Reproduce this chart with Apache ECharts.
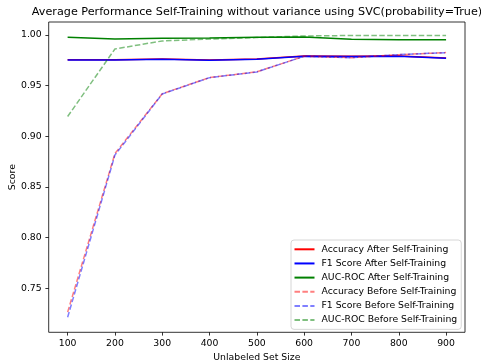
<!DOCTYPE html>
<html><head><meta charset="utf-8">
<script src="https://cdn.jsdelivr.net/npm/echarts@6/dist/echarts.min.js"></script>
<style>html,body{margin:0;padding:0;background:#fff}#c{width:481px;height:362px}</style>
</head><body><div id="c"></div>
<script>
const sizes = [100, 200, 300, 400, 500, 600, 700, 800, 900];
const accAfter  = [0.9755, 0.9755, 0.9762, 0.9752, 0.9762, 0.9792, 0.9790, 0.9792, 0.9772];
const f1After   = [0.9753, 0.9753, 0.9760, 0.9750, 0.9760, 0.9790, 0.9788, 0.9790, 0.9770];
const aucAfter  = [0.9977, 0.9960, 0.9967, 0.9970, 0.9977, 0.9980, 0.9958, 0.9954, 0.9954];
const accBefore = [0.7265, 0.8830, 0.9420, 0.9580, 0.9636, 0.9790, 0.9776, 0.9806, 0.9826];
const f1Before  = [0.7214, 0.8815, 0.9418, 0.9579, 0.9635, 0.9790, 0.9776, 0.9806, 0.9826];
const aucBefore = [0.9195, 0.9862, 0.9941, 0.9960, 0.9975, 0.9990, 0.9995, 0.9995, 0.9995];
const xTicks = [100, 200, 300, 400, 500, 600, 700, 800, 900];
const yTicks = [0.75, 0.80, 0.85, 0.90, 0.95, 1.00];

const names = ['Accuracy After Self-Training','F1 Score After Self-Training','AUC-ROC After Self-Training',
  'Accuracy Before Self-Training','F1 Score Before Self-Training','AUC-ROC Before Self-Training'];
const datas = [accAfter, f1After, aucAfter, accBefore, f1Before, aucBefore];
const colors = ['#ff0000','#0000ff','#008000','rgba(255,0,0,0.5)','rgba(0,0,255,0.5)','rgba(0,128,0,0.5)'];
const font = 'DejaVu Sans';
const fs = 9.3;
const series = names.map((n, i) => ({
  name: n, type: 'line', symbol: 'none', animation: false,
  data: sizes.map((s, j) => [s, datas[i][j]]),
  color: colors[i],
  lineStyle: { color: colors[i], width: 1.5, type: i >= 3 ? [5.5, 2.4] : 'solid' },
  z: 2 + i
}));
const chart = echarts.init(document.getElementById('c'), null, {renderer: 'canvas'});
chart.setOption({
  animation: false,
  backgroundColor: '#fff',
  graphic: [{
    type: 'text', x: 257, y: 12, z: 10,
    style: {
      text: 'Average Performance Self-Training without variance using SVC(probability=True)',
      fontFamily: font, fontSize: 11.2, fill: '#000', align: 'center', verticalAlign: 'middle'
    }
  }],
  grid: { left: 48.7, right: 16, top: 22, bottom: 29.7, outerBoundsMode: 'none', containLabel: false,
    show: true, borderColor: '#000', borderWidth: 0.8, backgroundColor: 'transparent' },
  legend: {
    orient: 'vertical', left: 291, top: 240,
    padding: [4.3, 4, 4.3, 2.5],
    itemWidth: 20, itemHeight: 10, itemGap: 4.15,
    itemStyle: { opacity: 0 },
    backgroundColor: 'rgba(255,255,255,0.8)', borderColor: '#cccccc', borderWidth: 0.8, borderRadius: 3,
    textStyle: { fontFamily: font, fontSize: fs, color: '#000', padding: [0, 0, 0, 2], height: 10, lineHeight: 10 },
    data: names
  },
  xAxis: {
    type: 'value', min: 60, max: 940,
    name: 'Unlabeled Set Size', nameLocation: 'middle', nameGap: 20.5, nameMoveOverlap: false,
    nameTextStyle: { fontFamily: font, fontSize: fs, color: '#000' },
    axisLine: { show: false },
    axisTick: { show: true, length: 3.3, lineStyle: { color: '#000', width: 0.8 }, customValues: xTicks },
    axisLabel: { fontFamily: font, fontSize: fs, color: '#000', margin: 6.5, customValues: xTicks, formatter: v => String(v) },
    splitLine: { show: false }
  },
  yAxis: {
    type: 'value', min: 0.7066, max: 1.0128,
    name: 'Score', nameLocation: 'middle', nameGap: 31.5, nameRotate: 90, nameMoveOverlap: false,
    nameTextStyle: { fontFamily: font, fontSize: fs, color: '#000' },
    axisLine: { show: false },
    axisTick: { show: true, length: 3.3, lineStyle: { color: '#000', width: 0.8 }, customValues: yTicks },
    axisLabel: { fontFamily: font, fontSize: fs, color: '#000', margin: 7, customValues: yTicks, formatter: v => v.toFixed(2) },
    splitLine: { show: false }
  },
  series: series
});
</script></body></html>
